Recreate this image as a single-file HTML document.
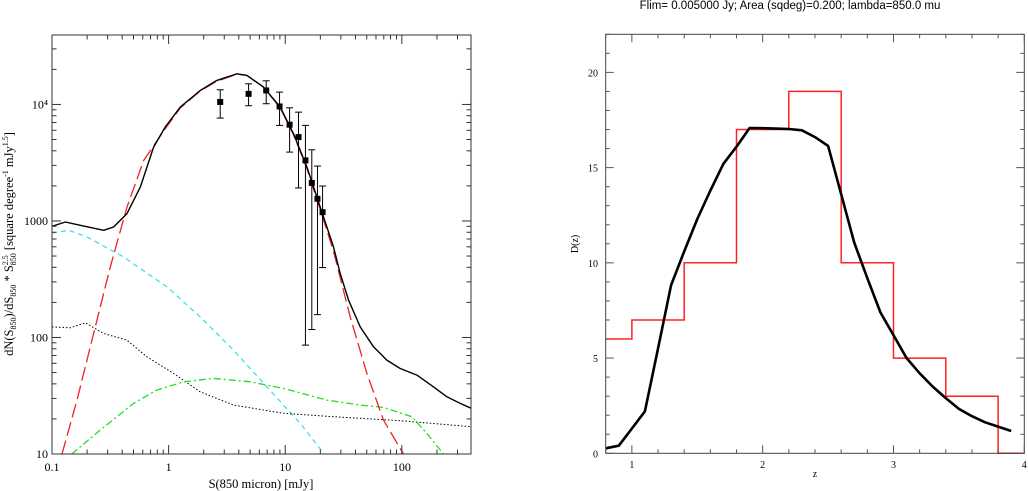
<!DOCTYPE html>
<html><head><meta charset="utf-8"><style>
body{margin:0;background:#fff;}
svg{display:block;}
text{font-family:"Liberation Serif",serif;fill:#000;}
</style></head><body>
<svg id="svg" width="1028" height="491" viewBox="0 0 1028 491">
<text x="790" y="9" text-anchor="middle" style="font-family:'Liberation Sans',sans-serif;font-size:11.5px">Flim=  0.005000 Jy; Area (sqdeg)=0.200; lambda=850.0 mu</text>
<g id="left"></g>
<g id="right"></g>
</svg>
<script>
// ---- Left chart data (log10 S [mJy], log10 value) ----
const totalLogS=[-1,-0.886,-0.757,-0.557,-0.471,-0.357,-0.243,-0.129,-0.029,0.1,0.271,0.414,0.586,0.671,0.814,0.957,1.071,1.186,1.3,1.414,1.471,1.543,1.643,1.757,1.871,1.986,2.129,2.271,2.386,2.5,2.597];
const totalLogN=[2.954,2.991,2.963,2.92,2.949,3.063,3.291,3.634,3.806,3.977,4.12,4.206,4.263,4.249,4.149,3.977,3.749,3.463,3.12,2.777,2.549,2.32,2.091,1.92,1.806,1.734,1.677,1.577,1.491,1.434,1.391];
const redLogS=[-0.914,-0.786,-0.643,-0.5,-0.357,-0.214,-0.029,0.1,0.271,0.414,0.586,0.671,0.814,0.957,1.071,1.186,1.3,1.414,1.557,1.7,1.843,2.014];
const redLogN=[1,1.463,2.034,2.606,3.12,3.52,3.791,3.97,4.115,4.2,4.26,4.25,4.15,3.97,3.74,3.45,3.1,2.74,2.177,1.691,1.291,1];
const cyanLogS=[-1,-0.857,-0.7,-0.386,-0.014,0.271,0.557,0.843,1.129,1.334];
const cyanLogN=[2.897,2.92,2.863,2.691,2.434,2.177,1.891,1.577,1.263,1];
const dotLogS=[-1,-0.843,-0.714,-0.557,-0.357,-0.186,0.043,0.271,0.557,0.986,1.414,1.986,2.597];
const dotLogN=[2.091,2.083,2.126,2.034,1.977,1.834,1.691,1.534,1.42,1.349,1.32,1.286,1.234];
const greenLogS=[-0.829,-0.586,-0.3,-0.1,0.129,0.386,0.7,0.986,1.357,1.643,1.843,2.086,2.214,2.357];
const greenLogN=[1,1.206,1.434,1.549,1.62,1.649,1.62,1.563,1.463,1.42,1.4,1.32,1.177,1];
const obsS=[2.77,4.85,6.87,8.94,10.9,13.0,14.9,16.9,18.9,20.9];
const obsN=[10500,12330,13180,9610,6700,5250,3310,2120,1550,1190];
const obsHi=[13360,15030,15960,12760,9360,8590,6610,4080,2960,1995];
const obsLo=[7640,9750,10140,6610,3900,1920,86,117,157,398];
const xTickVals=[0.1,1,10,100];
const xTickLabels=["0.1","1","10","100"];
const yTickVals=[10,100,1000,10000];
const yTickLabels=["10","100","1000","10⁴"];
// ---- Right chart data ----
const zVals=[0.8,0.9,1.0,1.1,1.2,1.3,1.4,1.5,1.6,1.7,1.8,1.9,2.0,2.1,2.2,2.3,2.4,2.5,2.6,2.7,2.8,2.9,3.0,3.1,3.2,3.3,3.4,3.5,3.6,3.7,3.8,3.9];
const dzModel=[0.26,0.4,1.3,2.2,5.5,8.83,10.6,12.3,13.8,15.2,16.1,17.08,17.07,17.05,17.03,16.96,16.6,16.14,13.6,11.07,9.2,7.4,6.2,5.0,4.2,3.5,2.9,2.33,1.95,1.63,1.4,1.17];
const histEdges=[0.8,1.0,1.4,1.8,2.2,2.6,3.0,3.4,3.8,4.0];
const histCounts=[6,7,10,17,19,10,5,3,0];
const zTickVals=[1,2,3,4];
const dTickVals=[0,5,10,15,20];

const NS="http://www.w3.org/2000/svg";
function mk(parent,tag,attrs){const e=document.createElementNS(NS,tag);for(const k in attrs)e.setAttribute(k,attrs[k]);parent.appendChild(e);return e;}

// Left axes
const L={x0:52,x1:471,y0:454,y1:35,lxmin:-1,lxmax:2.593,lymin:1,lymax:4.596};
const lx=v=>L.x0+(v-L.lxmin)/(L.lxmax-L.lxmin)*(L.x1-L.x0);
const ly=v=>L.y0-(v-L.lymin)/(L.lymax-L.lymin)*(L.y0-L.y1);
const gl=document.getElementById('left');
function line(parent,xs,ys,fx,fy,stroke,w,dash,name){
  const d=xs.map((x,i)=>(i?'L':'M')+fx(x).toFixed(1)+','+fy(ys[i]).toFixed(1)).join('');
  const p=mk(parent,'path',{d:d,fill:'none',stroke:stroke,'stroke-width':w,'stroke-linejoin':'round'});
  if(dash)p.setAttribute('stroke-dasharray',dash);
  
  
  return p;
}
const clipL=mk(gl,'clipPath',{id:'cl'});mk(clipL,'rect',{x:L.x0,y:L.y1,width:L.x1-L.x0,height:L.y0-L.y1});
const cg=mk(gl,'g',{'clip-path':'url(#cl)'});
line(cg,cyanLogS,cyanLogN,lx,ly,'#33ddee',1.2,'5,4','cyan-dashed-curve');
line(cg,dotLogS,dotLogN,lx,ly,'#000',1,'1.5,2','dotted-curve');
line(cg,greenLogS,greenLogN,lx,ly,'#22dd22',1.3,'7,3,2,3','green-dotdash-curve');
line(cg,redLogS,redLogN,lx,ly,'#ee2222',1.3,'14,5','red-dashed-curve');
line(cg,totalLogS,totalLogN,lx,ly,'#000',1.4,null,'total-counts-curve');
// data points
for(let i=0;i<obsS.length;i++){
  const X=lx(Math.log10(obsS[i])),Y=ly(Math.log10(obsN[i]));
  const yh=ly(Math.log10(obsHi[i])),yl=ly(Math.log10(obsLo[i]));
  const g=mk(gl,'g',{});
  
  
  mk(g,'line',{x1:X,x2:X,y1:yh,y2:yl,stroke:'#000','stroke-width':1});
  mk(g,'line',{x1:X-3.5,x2:X+3.5,y1:yh,y2:yh,stroke:'#000','stroke-width':1});
  mk(g,'line',{x1:X-3.5,x2:X+3.5,y1:yl,y2:yl,stroke:'#000','stroke-width':1});
  mk(g,'rect',{x:X-3,y:Y-3,width:6,height:6,fill:'#000'});
}
// frame & ticks
const fl=mk(gl,'rect',{x:L.x0,y:L.y1,width:L.x1-L.x0,height:L.y0-L.y1,fill:'none',stroke:'#333','stroke-width':1});

for(let d=-1;d<=2;d++)for(let m=1;m<=9;m++){const v=d+Math.log10(m);if(v>L.lxmax)continue;const X=lx(v),len=m==1?9:4.5;
  mk(gl,'line',{x1:X,x2:X,y1:L.y0,y2:L.y0-len,stroke:'#333'});mk(gl,'line',{x1:X,x2:X,y1:L.y1,y2:L.y1+len,stroke:'#333'});}
for(let d=1;d<=4;d++)for(let m=1;m<=9;m++){const v=d+Math.log10(m);if(v>L.lymax)continue;const Y=ly(v),len=m==1?9:4.5;
  mk(gl,'line',{x1:L.x0,x2:L.x0+len,y1:Y,y2:Y,stroke:'#333'});mk(gl,'line',{x1:L.x1,x2:L.x1-len,y1:Y,y2:Y,stroke:'#333'});}
xTickVals.forEach((v,i)=>{const t=mk(gl,'text',{x:lx(Math.log10(v)),y:471,'text-anchor':'middle','font-size':'12'});t.textContent=xTickLabels[i];
  });
yTickVals.forEach((v,i)=>{const t=mk(gl,'text',{x:48,y:ly(Math.log10(v))+4,'text-anchor':'end','font-size':'12'});t.textContent=yTickLabels[i];
  });
{const t=mk(gl,'text',{x:261,y:488,'text-anchor':'middle','font-size':'12.5'});t.textContent='S(850 micron) [mJy]';
 
 const y=mk(gl,'text',{x:0,y:0,'text-anchor':'middle','font-size':'12.5',transform:'translate(13,244) rotate(-90)'});
 y.innerHTML='dN(S<tspan font-size="8" dy="3">850</tspan><tspan dy="-3">)/dS</tspan><tspan font-size="8" dy="3">850</tspan><tspan dy="-3"> * S</tspan><tspan font-size="8" dy="-5">2.5</tspan><tspan font-size="8" dx="-10" dy="8">850</tspan><tspan dy="-3"> [square degree</tspan><tspan font-size="8" dy="-5">-1</tspan><tspan dy="5"> mJy</tspan><tspan font-size="8" dy="-5">1.5</tspan><tspan dy="5">]</tspan>';
 }

// Right axes
const R={x0:605.7,x1:1024.3,y0:453.3,y1:34.3,zmin:0.8,zmax:4,dmin:0,dmax:22};
const rx=v=>R.x0+(v-R.zmin)/(R.zmax-R.zmin)*(R.x1-R.x0);
const ry=v=>R.y0-(v-R.dmin)/(R.dmax-R.dmin)*(R.y0-R.y1);
const gr=document.getElementById('right');
// histogram
{let d='';for(let i=0;i<histCounts.length;i++){const X0=rx(histEdges[i]),X1=rx(histEdges[i+1]),Y=ry(histCounts[i]);
  d+=(i?'L':'M')+X0.toFixed(1)+','+Y.toFixed(1)+'L'+X1.toFixed(1)+','+Y.toFixed(1);}
 const p=mk(gr,'path',{d:d,fill:'none',stroke:'#ff2222','stroke-width':1.5});
 }
line(gr,zVals,dzModel,rx,ry,'#000',2.6,null,'model-redshift-curve');
const fr=mk(gr,'rect',{x:R.x0,y:R.y1,width:R.x1-R.x0,height:R.y0-R.y1,fill:'none',stroke:'#444','stroke-width':1});

for(let k=4;k<=20;k++){const v=k/5,X=rx(v),len=(k%5==0)?8:4;
  mk(gr,'line',{x1:X,x2:X,y1:R.y0,y2:R.y0-len,stroke:'#555'});mk(gr,'line',{x1:X,x2:X,y1:R.y1,y2:R.y1+len,stroke:'#555'});}
for(let v=0;v<=22;v++){const Y=ry(v),len=(v%5==0)?8:4;
  mk(gr,'line',{x1:R.x0,x2:R.x0+len,y1:Y,y2:Y,stroke:'#555'});mk(gr,'line',{x1:R.x1,x2:R.x1-len,y1:Y,y2:Y,stroke:'#555'});}
zTickVals.forEach(v=>{const t=mk(gr,'text',{x:rx(v),y:468,'text-anchor':'middle','font-size':'10'});t.textContent=String(v);
  });
dTickVals.forEach(v=>{const t=mk(gr,'text',{x:598,y:ry(v)+4,'text-anchor':'end','font-size':'10'});t.textContent=String(v);
  });
{const t=mk(gr,'text',{x:815,y:477,'text-anchor':'middle','font-size':'10'});t.textContent='z';
 
 const y=mk(gr,'text',{x:0,y:0,'text-anchor':'middle','font-size':'10',transform:'translate(578,244) rotate(-90)'});y.textContent='D(z)';
 }
</script>
</body></html>
